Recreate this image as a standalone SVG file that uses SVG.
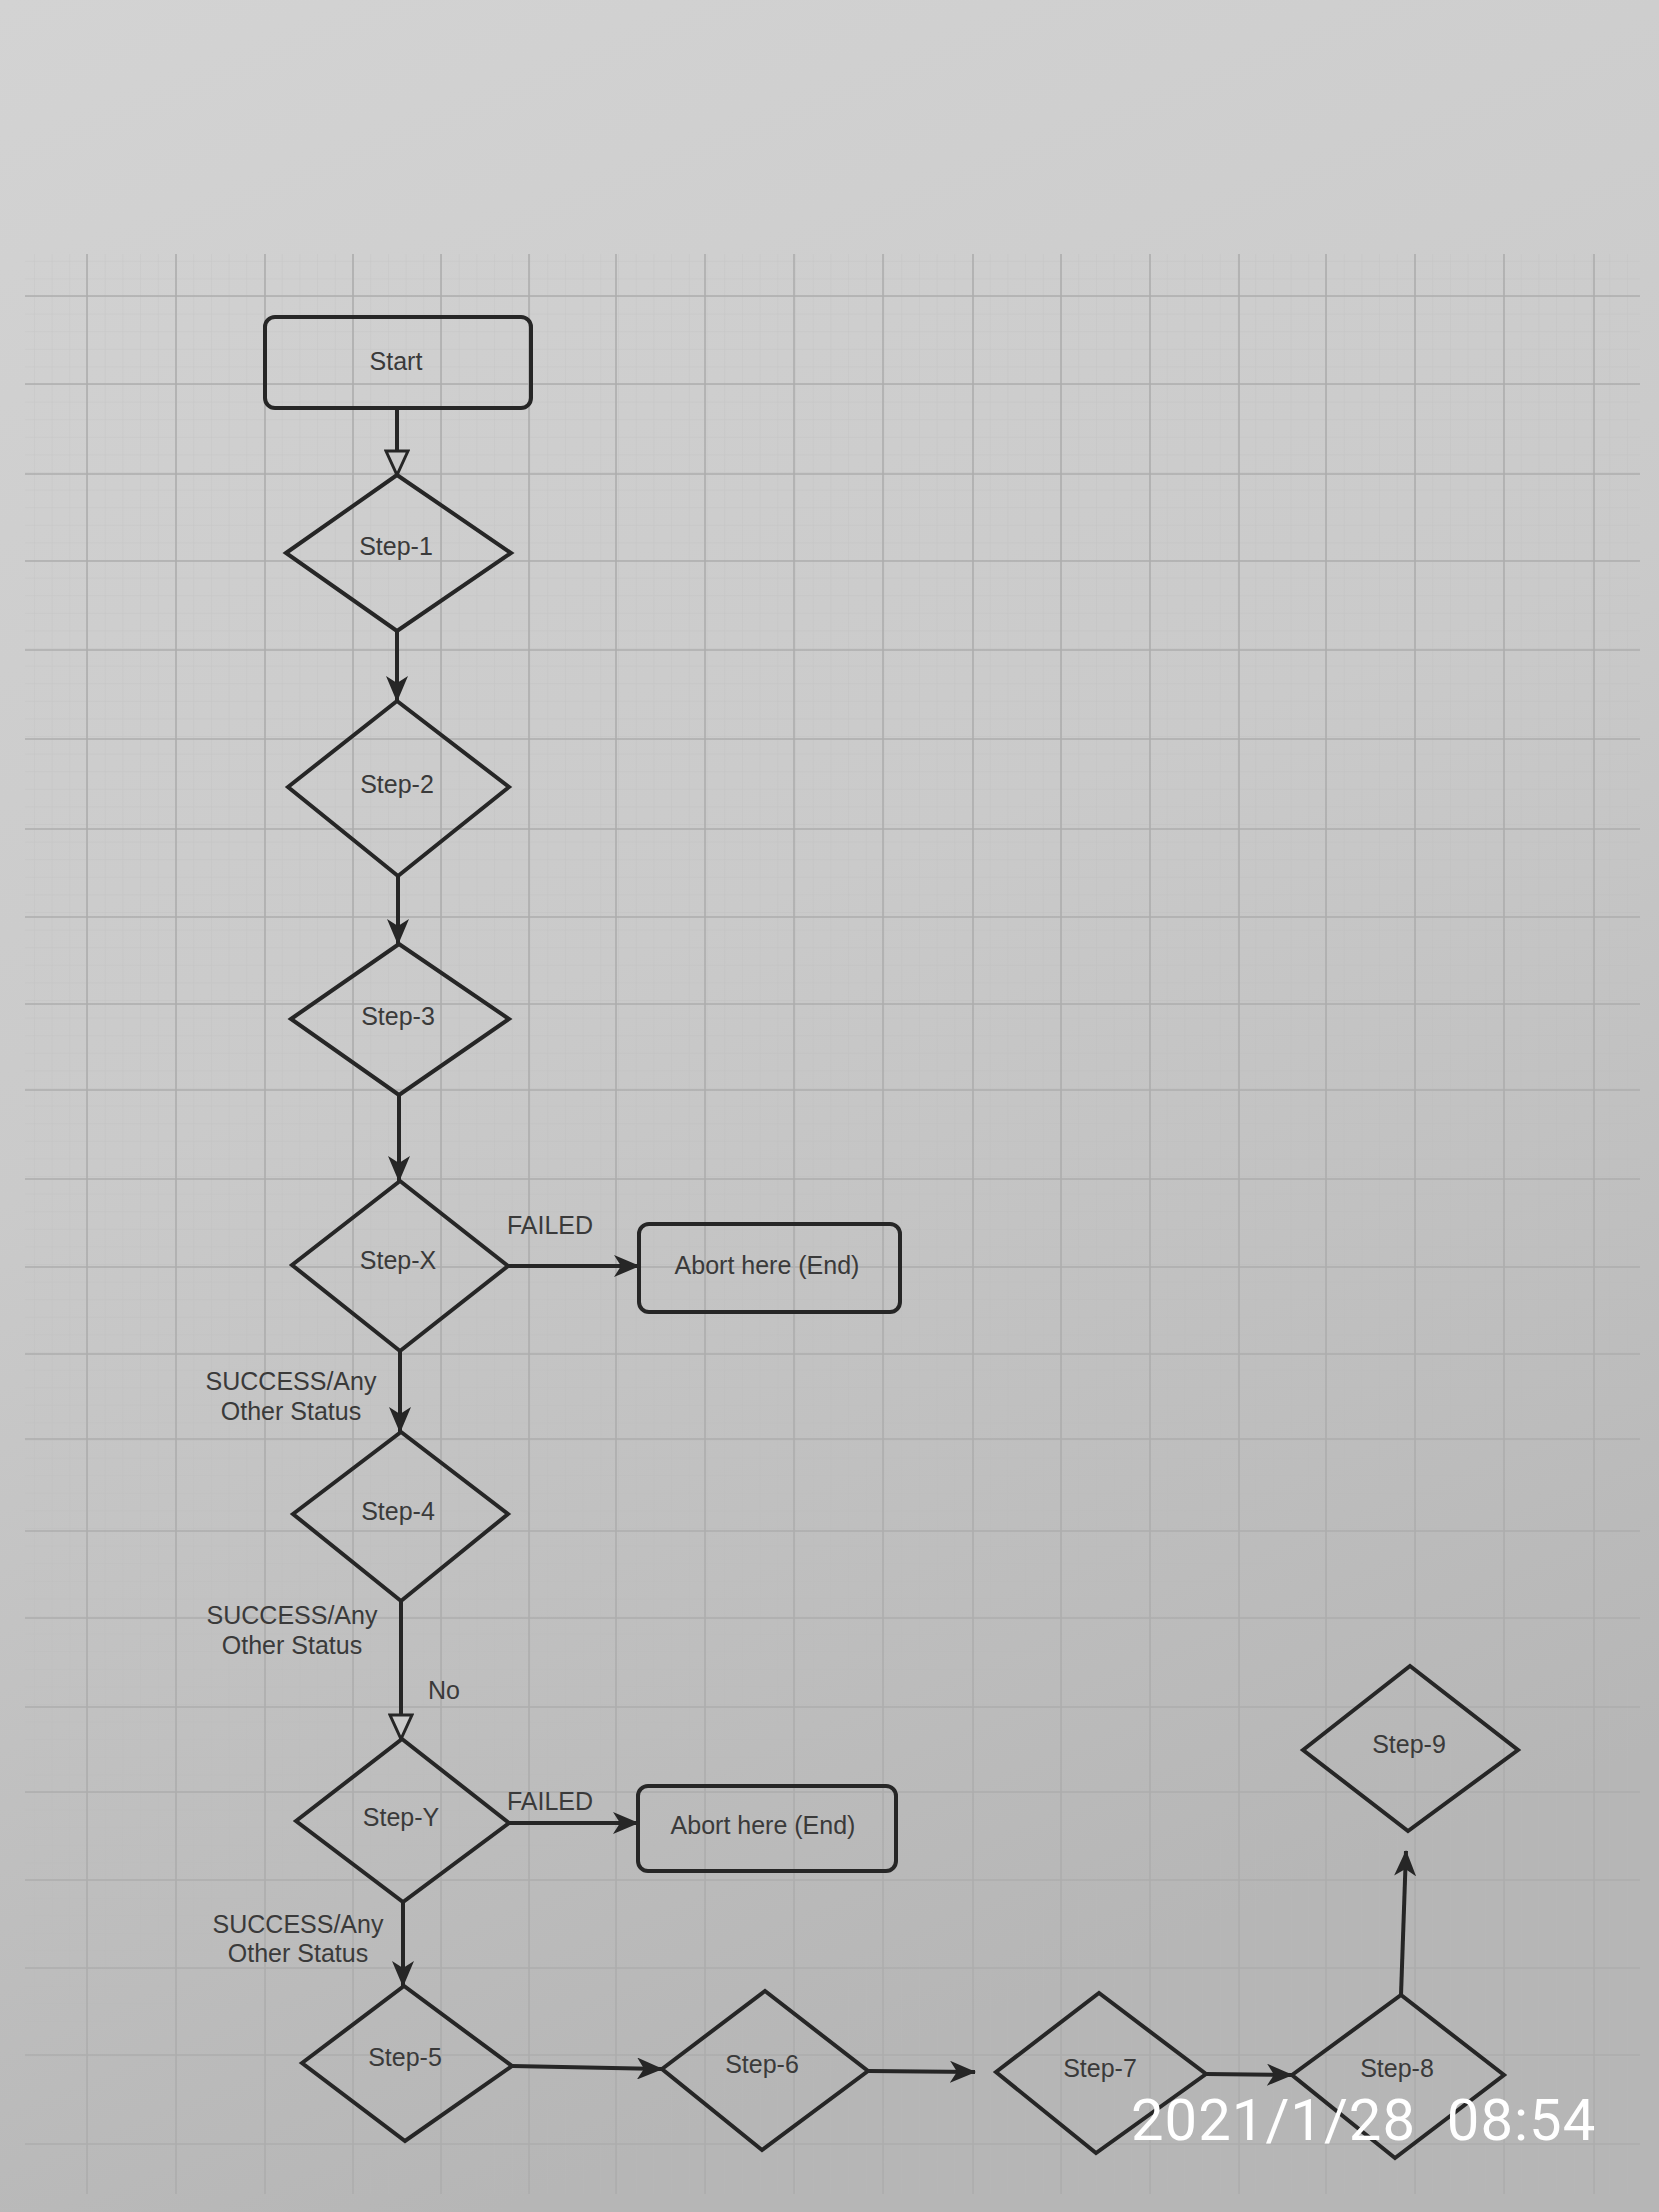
<svg xmlns="http://www.w3.org/2000/svg" width="1659" height="2212" viewBox="0 0 1659 2212">
<style>
.shape{fill:none;stroke:#262626;stroke-width:4;stroke-linejoin:miter}
.box{fill:none;stroke:#262626;stroke-width:4}
.lbl{font-family:"Liberation Sans",Arial,sans-serif;font-size:25px;fill:#3a3a3a;text-anchor:middle}
.edge{fill:none;stroke:#262626;stroke-width:4}
.major{stroke:#adadad;stroke-width:1.6}
.ts{font-family:Roboto,"Liberation Sans",sans-serif;font-size:58px;fill:#ffffff;white-space:pre;letter-spacing:1px}
</style>
<defs>
<linearGradient id="bg" x1="0" y1="0" x2="0.3" y2="1">
<stop offset="0" stop-color="#d3d3d3"/>
<stop offset="0.5" stop-color="#cacaca"/>
<stop offset="1" stop-color="#b6b6b6"/>
</linearGradient>
<pattern id="minor" x="87" y="296" width="17.7" height="17.6" patternUnits="userSpaceOnUse">
<path d="M0,0 V17.6 M0,0 H17.7" stroke="#b8b8b8" stroke-width="1" fill="none" opacity="0.45"/>
</pattern>
<marker id="arrow" viewBox="0 0 26 22" refX="25" refY="11" markerWidth="26" markerHeight="22" markerUnits="userSpaceOnUse" orient="auto">
<path d="M0,0 L26,11 L0,22 L7,11 Z" fill="#262626"/>
</marker>
<marker id="hollow" viewBox="0 0 28 26" refX="26" refY="13" markerWidth="28" markerHeight="26" markerUnits="userSpaceOnUse" orient="auto">
<path d="M2,2 L26,13 L2,24 Z" fill="#cbcbcb" stroke="#262626" stroke-width="3"/>
</marker>
</defs>
<rect width="1659" height="2212" fill="url(#bg)"/>
<g id="grid">
<rect x="25" y="254" width="1615" height="1940" fill="url(#minor)"/>
<path class="major" d="M87,254V2194 M176,254V2194 M265,254V2194 M353,254V2194 M441,254V2194 M529,254V2194 M616,254V2194 M705,254V2194 M794,254V2194 M883,254V2194 M973,254V2194 M1061,254V2194 M1150,254V2194 M1239,254V2194 M1326,254V2194 M1415,254V2194 M1504,254V2194 M1594,254V2194"/>
<path class="major" d="M25,296H1640 M25,384H1640 M25,474H1640 M25,561H1640 M25,650H1640 M25,739H1640 M25,829H1640 M25,917H1640 M25,1004H1640 M25,1090H1640 M25,1179H1640 M25,1267H1640 M25,1354H1640 M25,1439H1640 M25,1531H1640 M25,1618H1640 M25,1707H1640 M25,1792H1640 M25,1880H1640 M25,1968H1640 M25,2055H1640 M25,2144H1640"/>
</g>
<g id="connectors">
<path class="edge" d="M397,408 V475" marker-end="url(#hollow)"/>
<path class="edge" d="M397,631 V701" marker-end="url(#arrow)"/>
<path class="edge" d="M398,876 V944" marker-end="url(#arrow)"/>
<path class="edge" d="M399,1095 V1181" marker-end="url(#arrow)"/>
<path class="edge" d="M508,1266 H639" marker-end="url(#arrow)"/>
<text class="lbl" x="550" y="1234">FAILED</text>
<path class="edge" d="M400,1351 V1432" marker-end="url(#arrow)"/>
<text class="lbl" x="291" y="1390">SUCCESS/Any</text>
<text class="lbl" x="291" y="1420">Other Status</text>
<path class="edge" d="M401,1601 V1739" marker-end="url(#hollow)"/>
<text class="lbl" x="292" y="1624">SUCCESS/Any</text>
<text class="lbl" x="292" y="1654">Other Status</text>
<text class="lbl" x="444" y="1699">No</text>
<path class="edge" d="M509,1823 H638" marker-end="url(#arrow)"/>
<text class="lbl" x="550" y="1810">FAILED</text>
<path class="edge" d="M403,1902 V1986" marker-end="url(#arrow)"/>
<text class="lbl" x="298" y="1933">SUCCESS/Any</text>
<text class="lbl" x="298" y="1962">Other Status</text>
<path class="edge" d="M512,2066 L662,2069" marker-end="url(#arrow)"/>
<path class="edge" d="M868,2071 L975,2072" marker-end="url(#arrow)"/>
<path class="edge" d="M1206,2074 L1292,2075" marker-end="url(#arrow)"/>
<path class="edge" d="M1401,1995 L1406,1851" marker-end="url(#arrow)"/>
</g>
<g id="start">
<rect class="box" x="265" y="317" width="266" height="91" rx="10"/>
<text class="lbl" x="396" y="370">Start</text>
</g>
<g id="step1">
<polygon class="shape" points="286,553 397,475 511,553 397,631"/>
<text class="lbl" x="396" y="555">Step-1</text>
</g>
<g id="step2">
<polygon class="shape" points="288,787 397,701 509,787 398,876"/>
<text class="lbl" x="397" y="793">Step-2</text>
</g>
<g id="step3">
<polygon class="shape" points="291,1019 399,944 509,1019 399,1095"/>
<text class="lbl" x="398" y="1025">Step-3</text>
</g>
<g id="stepX">
<polygon class="shape" points="292,1265 400,1181 508,1266 400,1351"/>
<text class="lbl" x="398" y="1269">Step-X</text>
</g>
<g id="abort1">
<rect class="box" x="639" y="1224" width="261" height="88" rx="10"/>
<text class="lbl" x="767" y="1274">Abort here (End)</text>
</g>
<g id="step4">
<polygon class="shape" points="293,1514 401,1432 508,1514 401,1601"/>
<text class="lbl" x="398" y="1520">Step-4</text>
</g>
<g id="stepY">
<polygon class="shape" points="296,1821 402,1739 509,1823 403,1902"/>
<text class="lbl" x="401" y="1826">Step-Y</text>
</g>
<g id="abort2">
<rect class="box" x="638" y="1786" width="258" height="85" rx="10"/>
<text class="lbl" x="763" y="1834">Abort here (End)</text>
</g>
<g id="step5">
<polygon class="shape" points="302,2063 404,1986 512,2066 405,2141"/>
<text class="lbl" x="405" y="2066">Step-5</text>
</g>
<g id="step6">
<polygon class="shape" points="662,2069 765,1991 868,2071 762,2150"/>
<text class="lbl" x="762" y="2073">Step-6</text>
</g>
<g id="step7">
<polygon class="shape" points="996,2072 1099,1993 1206,2074 1096,2153"/>
<text class="lbl" x="1100" y="2077">Step-7</text>
</g>
<g id="step8">
<polygon class="shape" points="1292,2075 1401,1995 1504,2075 1395,2158"/>
<text class="lbl" x="1397" y="2077">Step-8</text>
</g>
<g id="step9">
<polygon class="shape" points="1303,1750 1410,1666 1518,1750 1408,1831"/>
<text class="lbl" x="1409" y="1753">Step-9</text>
</g>
<text class="ts" x="1131" y="2140">2021/1/28  08:54</text>
</svg>
